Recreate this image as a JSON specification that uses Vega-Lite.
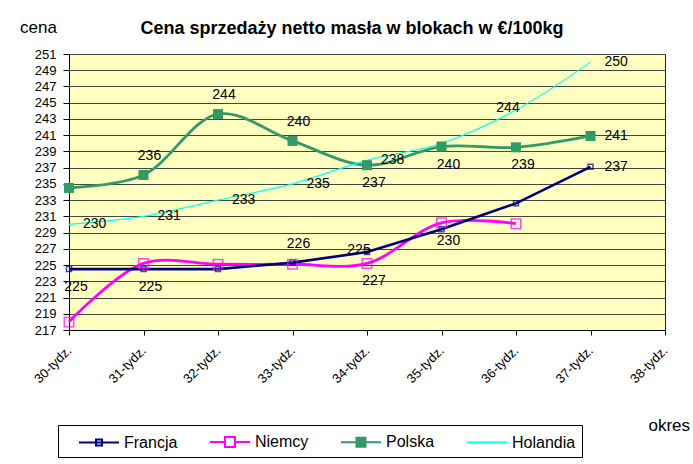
{
  "$schema": "https://vega.github.io/schema/vega-lite/v6.json",
  "width": 596,
  "height": 276,
  "autosize": "none",
  "padding": {"left": 69, "top": 54, "right": 28, "bottom": 134},
  "background": "white",
  "config": {
    "font": "Liberation Sans",
    "view": {"fill": "#FFFFC0", "stroke": "#222222", "strokeWidth": 1},
    "text": {"font": "Liberation Sans", "fontSize": 14, "color": "black"}
  },
  "title": {
    "text": "Cena sprzedaży netto masła w blokach w €/100kg",
    "fontSize": 18,
    "fontWeight": "bold",
    "color": "black",
    "anchor": "middle",
    "dx": -15,
    "offset": -20
  },
  "datasets": {
    "series": [
      {"country": "Francja", "week": "30-tydz.", "value": 224.5},
      {"country": "Francja", "week": "31-tydz.", "value": 224.5},
      {"country": "Francja", "week": "32-tydz.", "value": 224.5},
      {"country": "Francja", "week": "33-tydz.", "value": 225.3},
      {"country": "Francja", "week": "34-tydz.", "value": 226.6},
      {"country": "Francja", "week": "35-tydz.", "value": 229.4},
      {"country": "Francja", "week": "36-tydz.", "value": 232.6},
      {"country": "Francja", "week": "37-tydz.", "value": 237.1},
      {"country": "Niemcy", "week": "30-tydz.", "value": 218.0},
      {"country": "Niemcy", "week": "31-tydz.", "value": 225.2},
      {"country": "Niemcy", "week": "32-tydz.", "value": 225.1},
      {"country": "Niemcy", "week": "33-tydz.", "value": 225.1},
      {"country": "Niemcy", "week": "34-tydz.", "value": 225.2},
      {"country": "Niemcy", "week": "35-tydz.", "value": 230.2},
      {"country": "Niemcy", "week": "36-tydz.", "value": 230.1},
      {"country": "Polska", "week": "30-tydz.", "value": 234.5},
      {"country": "Polska", "week": "31-tydz.", "value": 236.1},
      {"country": "Polska", "week": "32-tydz.", "value": 243.6},
      {"country": "Polska", "week": "33-tydz.", "value": 240.3},
      {"country": "Polska", "week": "34-tydz.", "value": 237.3},
      {"country": "Polska", "week": "35-tydz.", "value": 239.6},
      {"country": "Polska", "week": "36-tydz.", "value": 239.5},
      {"country": "Polska", "week": "37-tydz.", "value": 240.9},
      {"country": "Holandia", "week": "30-tydz.", "value": 230.0},
      {"country": "Holandia", "week": "31-tydz.", "value": 231.0},
      {"country": "Holandia", "week": "32-tydz.", "value": 233.0},
      {"country": "Holandia", "week": "33-tydz.", "value": 235.0},
      {"country": "Holandia", "week": "34-tydz.", "value": 237.9},
      {"country": "Holandia", "week": "35-tydz.", "value": 240.0},
      {"country": "Holandia", "week": "36-tydz.", "value": 244.1},
      {"country": "Holandia", "week": "37-tydz.", "value": 250.0}
    ],
    "labelsRight": [
      {"week": "30-tydz.", "value": 230.0, "label": "230"},
      {"week": "31-tydz.", "value": 231.0, "label": "231"},
      {"week": "32-tydz.", "value": 233.0, "label": "233"},
      {"week": "33-tydz.", "value": 235.0, "label": "235"},
      {"week": "34-tydz.", "value": 237.9, "label": "238"},
      {"week": "37-tydz.", "value": 250.0, "label": "250"},
      {"week": "37-tydz.", "value": 240.9, "label": "241"},
      {"week": "37-tydz.", "value": 237.1, "label": "237"}
    ],
    "labelsAbove": [
      {"week": "31-tydz.", "value": 236.1, "label": "236"},
      {"week": "32-tydz.", "value": 243.6, "label": "244"},
      {"week": "33-tydz.", "value": 240.3, "label": "240"},
      {"week": "33-tydz.", "value": 225.3, "label": "226"}
    ],
    "labelsBelow": [
      {"week": "30-tydz.", "value": 224.5, "label": "225"},
      {"week": "31-tydz.", "value": 224.5, "label": "225"},
      {"week": "34-tydz.", "value": 237.3, "label": "237"},
      {"week": "34-tydz.", "value": 225.2, "label": "227"},
      {"week": "35-tydz.", "value": 239.6, "label": "240"},
      {"week": "35-tydz.", "value": 230.2, "label": "230"},
      {"week": "36-tydz.", "value": 239.5, "label": "239"}
    ],
    "labelsOn": [
      {"week": "34-tydz.", "value": 226.6, "label": "225"},
      {"week": "36-tydz.", "value": 244.1, "label": "244"}
    ]
  },
  "encoding": {
    "x": {
      "field": "week",
      "type": "ordinal",
      "sort": null,
      "scale": {
        "type": "point",
        "padding": 0,
        "domain": ["30-tydz.", "31-tydz.", "32-tydz.", "33-tydz.", "34-tydz.", "35-tydz.", "36-tydz.", "37-tydz.", "38-tydz."]
      },
      "axis": {
        "title": "okres",
        "titleFontSize": 17,
        "titleFontWeight": "normal",
        "titleColor": "black",
        "titleX": 579,
        "titleY": 95,
        "titleAlign": "left",
        "titleBaseline": "middle",
        "labelAngle": -45,
        "labelAlign": "right",
        "labelBaseline": "middle",
        "labelFontSize": 13,
        "labelColor": "black",
        "labelPadding": 13,
        "labelOverlap": false,
        "tickSize": 5,
        "tickColor": "black",
        "domainColor": "black",
        "grid": false
      }
    },
    "y": {
      "field": "value",
      "type": "quantitative",
      "scale": {"domain": [217, 251], "nice": false, "zero": false},
      "axis": {
        "values": [217, 219, 221, 223, 225, 227, 229, 231, 233, 235, 237, 239, 241, 243, 245, 247, 249, 251],
        "labelOverlap": false,
        "title": "cena",
        "titleAngle": 0,
        "titleX": -31,
        "titleY": -27,
        "titleAlign": "center",
        "titleBaseline": "middle",
        "titleFontSize": 17,
        "titleFontWeight": "normal",
        "titleColor": "black",
        "labelFontSize": 13,
        "labelColor": "black",
        "labelPadding": 7,
        "tickSize": 6,
        "tickColor": "black",
        "domainColor": "black",
        "grid": true,
        "gridColor": "#444444",
        "gridWidth": 1
      }
    }
  },
  "layer": [
    {
      "data": {"name": "series"},
      "mark": {"type": "point", "filled": false, "opacity": 0},
      "encoding": {
        "color": {
          "field": "country",
          "type": "nominal",
          "scale": {"domain": ["Francja", "Niemcy", "Polska", "Holandia"], "range": ["#000080", "#FF00FF", "#339966", "#00FFFF"]},
          "legend": {
            "title": null,
            "orient": "none",
            "legendX": -11,
            "legendY": 371,
            "direction": "horizontal",
            "columns": 4,
            "columnPadding": 17,
            "symbolSize": 400,
            "symbolOffset": 24,
            "symbolStrokeWidth": 2,
            "symbolOpacity": 1,
            "labelFontSize": 16,
            "labelColor": "black",
            "labelOffset": 14,
            "strokeColor": "black",
            "fillColor": "white",
            "padding": 6
          }
        },
        "fill": {
          "field": "country",
          "type": "nominal",
          "scale": {"domain": ["Francja", "Niemcy", "Polska", "Holandia"], "range": ["transparent", "transparent", "#339966", "transparent"]}
        },
        "shape": {
          "field": "country",
          "type": "nominal",
          "scale": {
            "domain": ["Francja", "Niemcy", "Polska", "Holandia"],
            "range": [
              "M-2,0H2M-0.3,-0.3H0.3V0.3H-0.3Z",
              "M-2,0H-0.5M0.5,0H2M-0.5,-0.5H0.5V0.5H-0.5Z",
              "M-2,0H2M-0.45,-0.45H0.45V0.45H-0.45Z",
              "M-2,0H2"
            ]
          }
        }
      }
    },
    {
      "data": {"name": "series"},
      "transform": [{"filter": "datum.country === 'Niemcy' || datum.country === 'Polska'"}],
      "mark": {"type": "line", "interpolate": "catmull-rom", "strokeWidth": 2.8},
      "encoding": {
        "stroke": {
          "field": "country",
          "type": "nominal",
          "scale": {"domain": ["Francja", "Niemcy", "Polska", "Holandia"], "range": ["#000080", "#FF00FF", "#339966", "#00FFFF"]},
          "legend": null
        }
      }
    },
    {
      "data": {"name": "series"},
      "transform": [{"filter": "datum.country === 'Holandia'"}],
      "mark": {"type": "line", "interpolate": "catmull-rom", "strokeWidth": 1.2},
      "encoding": {
        "stroke": {"field": "country", "type": "nominal", "legend": null}
      }
    },
    {
      "data": {"name": "series"},
      "transform": [{"filter": "datum.country === 'Francja'"}],
      "mark": {"type": "line", "interpolate": "linear", "strokeWidth": 2.6},
      "encoding": {
        "stroke": {"field": "country", "type": "nominal", "legend": null}
      }
    },
    {
      "data": {"name": "series"},
      "transform": [{"filter": "datum.country === 'Francja' || datum.country === 'Niemcy'"}],
      "mark": {"type": "square", "filled": false, "fill": "transparent", "strokeWidth": 1.5},
      "encoding": {
        "stroke": {"field": "country", "type": "nominal", "legend": null},
        "size": {
          "field": "country",
          "type": "nominal",
          "scale": {"domain": ["Francja", "Niemcy"], "range": [25, 90]},
          "legend": null
        }
      }
    },
    {
      "data": {"name": "series"},
      "transform": [{"filter": "datum.country === 'Polska'"}],
      "mark": {"type": "square", "filled": true, "color": "#339966", "size": 100, "opacity": 1}
    },
    {
      "data": {"name": "labelsRight"},
      "mark": {"type": "text", "align": "left", "baseline": "middle", "dx": 14, "dy": 0},
      "encoding": {"text": {"field": "label"}}
    },
    {
      "data": {"name": "labelsAbove"},
      "mark": {"type": "text", "align": "center", "baseline": "middle", "dx": 6, "dy": -19},
      "encoding": {"text": {"field": "label"}}
    },
    {
      "data": {"name": "labelsBelow"},
      "mark": {"type": "text", "align": "center", "baseline": "middle", "dx": 7, "dy": 18},
      "encoding": {"text": {"field": "label"}}
    },
    {
      "data": {"name": "labelsOn"},
      "mark": {"type": "text", "align": "center", "baseline": "middle", "dx": -8, "dy": -2},
      "encoding": {"text": {"field": "label"}}
    }
  ]
}
